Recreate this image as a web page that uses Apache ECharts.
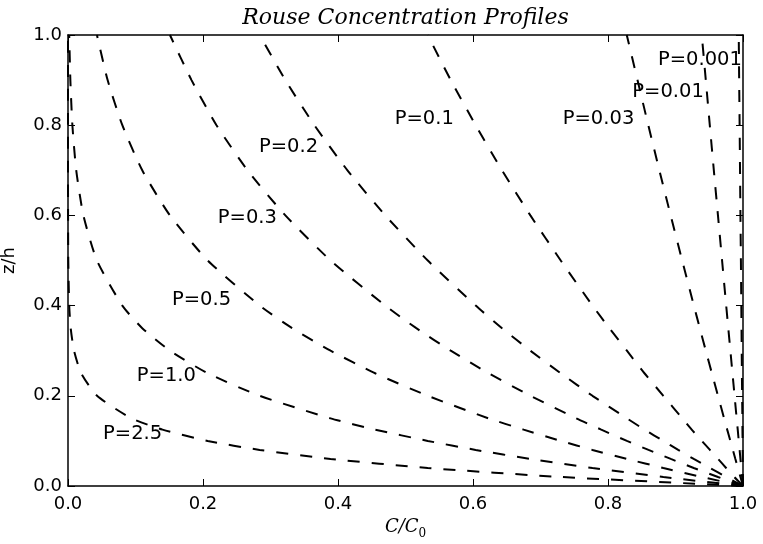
<!DOCTYPE html>
<html>
<head>
<meta charset="utf-8">
<title>Rouse Concentration Profiles</title>
<script src="https://cdn.jsdelivr.net/npm/echarts@6/dist/echarts.min.js"></script>
<style>
  html, body { margin: 0; padding: 0; background: #fff; }
  #chart { width: 763px; height: 544px; }
</style>
</head>
<body>
<div id="chart"></div>
<script>
// Relative height above the bed (z/h) at which each profile is sampled
const zLevels = [0, 0.02, 0.04, 0.06, 0.08, 0.1, 0.125, 0.15, 0.2, 0.25, 0.3, 0.35, 0.4, 0.5, 0.6, 0.7, 0.8, 0.9, 1.0];

// Concentration C/C0 at each level, one list per Rouse number P
const cP2_5   = [1, 0.730, 0.533, 0.389, 0.284, 0.207, 0.140, 0.094, 0.043, 0.0195, 0.0089, 0.0040, 0.0018, 0.0004, 0.0001, 0, 0, 0, 0];
const cP1_0   = [1, 0.882, 0.777, 0.685, 0.604, 0.533, 0.455, 0.389, 0.284, 0.207, 0.151, 0.110, 0.0805, 0.0429, 0.0228, 0.0122, 0.0065, 0.0035, 0.0018];
const cP0_5   = [1, 0.939, 0.882, 0.828, 0.777, 0.730, 0.675, 0.623, 0.533, 0.455, 0.389, 0.332, 0.284, 0.207, 0.151, 0.110, 0.0805, 0.0587, 0.0429];
const cP0_3   = [1, 0.963, 0.927, 0.893, 0.860, 0.828, 0.790, 0.753, 0.685, 0.623, 0.567, 0.516, 0.470, 0.389, 0.322, 0.266, 0.220, 0.183, 0.151];
const cP0_2   = [1, 0.975, 0.951, 0.927, 0.904, 0.882, 0.854, 0.828, 0.777, 0.730, 0.685, 0.643, 0.604, 0.533, 0.470, 0.414, 0.365, 0.322, 0.284];
const cP0_1   = [1, 0.987, 0.975, 0.963, 0.951, 0.939, 0.924, 0.910, 0.882, 0.854, 0.828, 0.802, 0.777, 0.730, 0.685, 0.643, 0.604, 0.567, 0.533];
const cP0_03  = [1, 0.9962, 0.9925, 0.9887, 0.9850, 0.9813, 0.9766, 0.9720, 0.9629, 0.9539, 0.9449, 0.9360, 0.9272, 0.9099, 0.8928, 0.8761, 0.8597, 0.8437, 0.8278];
const cP0_01  = [1, 0.9987, 0.9975, 0.9962, 0.9950, 0.9937, 0.9922, 0.9906, 0.9875, 0.9844, 0.9813, 0.9782, 0.9751, 0.9690, 0.9629, 0.9568, 0.9508, 0.9449, 0.9389];
const cP0_001 = [1, 0.9999, 0.9997, 0.9996, 0.9995, 0.9994, 0.9992, 0.9991, 0.9987, 0.9984, 0.9981, 0.9978, 0.9975, 0.9969, 0.9962, 0.9956, 0.9950, 0.9943, 0.9937];

const profileNames = ['P=2.5', 'P=1.0', 'P=0.5', 'P=0.3', 'P=0.2', 'P=0.1', 'P=0.03', 'P=0.01', 'P=0.001'];
const profileValues = [cP2_5, cP1_0, cP0_5, cP0_3, cP0_2, cP0_1, cP0_03, cP0_01, cP0_001];

// Inline curve labels: [C/C0, z/h] of each label's left edge
const labelX = [0.052, 0.102, 0.154, 0.222, 0.283, 0.484, 0.733, 0.836, 0.874];
const labelZ = [0.115, 0.244, 0.412, 0.594, 0.752, 0.814, 0.814, 0.874, 0.945];

// Axis ticks
const tickStep = 0.2;
const axisMin = 0;
const axisMax = 1;

const SANS = 'DejaVu Sans';
const SERIF = 'DejaVu Serif';

const chart = echarts.init(document.getElementById('chart'), null, { renderer: 'canvas' });

const fmt = v => v.toFixed(1);

function valueAxis(extra) {
  return Object.assign({
    type: 'value',
    min: axisMin,
    max: axisMax,
    interval: tickStep,
    axisLine: { show: true, onZero: false, lineStyle: { color: '#000', width: 1.5 } },
    axisTick: { show: true, inside: true, length: 7, lineStyle: { color: '#000', width: 1 } },
    splitLine: { show: false },
    axisLabel: { show: false }
  }, extra);
}

const curveSeries = profileNames.map((name, k) => ({
  name: name,
  type: 'line',
  xAxisIndex: 0,
  yAxisIndex: 0,
  data: zLevels.map((z, i) => [profileValues[k][i], z]),
  showSymbol: false,
  symbol: 'none',
  smooth: 0.2,
  clip: true,
  lineStyle: { color: '#000', width: 2, type: [12, 12] },
  emphasis: { disabled: true },
  z: 2
}));

const labelSeries = {
  type: 'scatter',
  xAxisIndex: 0,
  yAxisIndex: 0,
  symbolSize: 0,
  itemStyle: { opacity: 1 },
  data: profileNames.map((name, k) => [labelX[k], labelZ[k], name]),
  label: {
    show: true,
    position: 'right',
    distance: 0,
    formatter: p => p.data[2],
    color: '#000',
    opacity: 1,
    textBorderWidth: 0,
    textShadowBlur: 0,
    fontFamily: SANS,
    fontSize: 19.5
  },
  emphasis: { disabled: true },
  silent: true,
  z: 5
};

chart.setOption({
  animation: false,
  backgroundColor: '#fff',
  grid: { left: 68, right: 20, top: 35, bottom: 58, containLabel: false, outerBoundsMode: 'none' },
  xAxis: [
    valueAxis({
      position: 'bottom',
      axisLabel: { show: true, formatter: fmt, color: '#000', fontFamily: SANS, fontSize: 18, margin: 9 },
      name: '{c|C/C}{s|0}',
      nameLocation: 'middle',
      nameGap: 29,
      nameTextStyle: {
        rich: {
          c: { fontFamily: SERIF, fontStyle: 'italic', fontSize: 18, color: '#000', lineHeight: 22, verticalAlign: 'top' },
          s: { fontFamily: SERIF, fontSize: 12, color: '#000', lineHeight: 12, verticalAlign: 'bottom' }
        }
      }
    }),
    valueAxis({
      position: 'top',
      name: 'Rouse Concentration Profiles',
      nameLocation: 'middle',
      nameGap: 6,
      nameTextStyle: { fontFamily: SERIF, fontStyle: 'italic', fontSize: 22, color: '#000' }
    })
  ],
  yAxis: [
    valueAxis({
      position: 'left',
      axisLabel: { show: true, formatter: fmt, color: '#000', fontFamily: SANS, fontSize: 18, margin: 6 },
      name: 'z/h',
      nameLocation: 'middle',
      nameRotate: 90,
      nameGap: 50,
      nameTextStyle: { fontFamily: SANS, fontSize: 18, color: '#000' }
    }),
    valueAxis({ position: 'right' })
  ],
  series: curveSeries.concat([labelSeries])
});
</script>
</body>
</html>
